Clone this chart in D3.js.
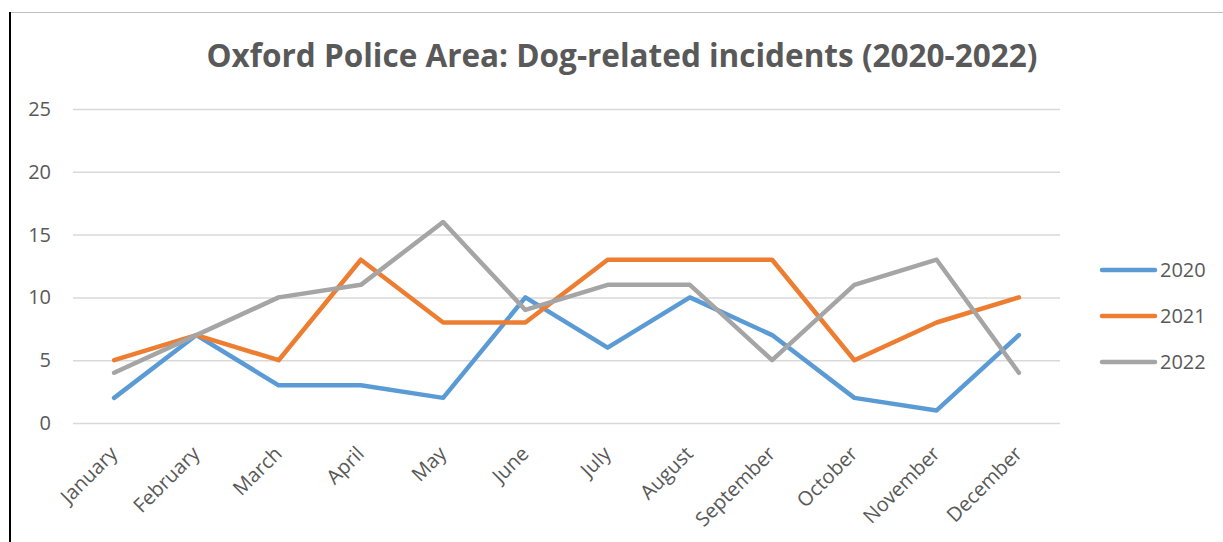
<!DOCTYPE html>
<html><head><meta charset="utf-8">
<script src="https://cdn.jsdelivr.net/npm/d3@7"></script>
<style>body{margin:0;background:#fff}svg{display:block}</style>
</head><body><svg id="c" width="1223" height="542"></svg>
<script>
const months = ["January","February","March","April","May","June","July","August","September","October","November","December"];
const seriesNames = ["2020","2021","2022"];
const values2020 = [2,7,3,3,2,10,6,10,7,2,1,7];
const values2021 = [5,7,5,13,8,8,13,13,13,5,8,10];
const values2022 = [4,7,10,11,16,9,11,11,5,11,13,4];
const yTicks = [0,5,10,15,20,25];
const colors = ["#5B9BD5","#ED7D31","#A5A5A5"];
const title = "Oxford Police Area: Dog-related incidents (2020-2022)";

const svg = d3.select("#c");
const font = "'Open Sans', 'Liberation Sans', sans-serif";
const x = d3.scalePoint().domain(months).range([73,1060]).padding(0.5);
const y = d3.scaleLinear().domain([0,25]).range([423,109]);

// borders
svg.append("line").attr("x1",10).attr("x2",1223).attr("y1",12.5).attr("y2",12.5).attr("stroke","#BFBFBF").attr("stroke-width",1);
svg.append("line").attr("x1",10).attr("x2",10).attr("y1",12).attr("y2",542).attr("stroke","#000").attr("stroke-width",2);

// title
svg.append("text").attr("x",622).attr("y",67).attr("text-anchor","middle")
  .attr("font-family",font).attr("font-weight","bold").attr("font-size",31.5).attr("fill","#595959").text(title);

// grid
const yAxis = d3.axisLeft(y).tickValues(yTicks).tickSize(-(1060-73)).tickPadding(22);
const gy = svg.append("g").attr("transform","translate(73,0)").call(yAxis);
gy.select(".domain").remove();
gy.selectAll(".tick line").attr("stroke","#D9D9D9").attr("stroke-width",1.5);
gy.selectAll(".tick text").attr("font-family",font).attr("font-size",20).attr("fill","#595959");

// x labels
const xAxis = d3.axisBottom(x).tickSize(0).tickPadding(0);
const gx = svg.append("g").attr("transform","translate(0,423)").call(xAxis);
gx.select(".domain").remove();
gx.selectAll(".tick text").attr("font-family",font).attr("font-size",20).attr("fill","#595959")
  .attr("text-anchor","end").attr("dy",null).attr("y",0)
  .attr("transform","translate(4,32) rotate(-45)");

// lines
const allSeries = [values2020, values2021, values2022];
const line = d3.line().x((d,i)=>x(months[i])).y(d=>y(d));
allSeries.forEach((vals,k)=>{
  svg.append("path").datum(vals).attr("d",line).attr("fill","none")
    .attr("stroke",colors[k]).attr("stroke-width",4.5).attr("stroke-linecap","round").attr("stroke-linejoin","round");
});

// legend
const lg = svg.append("g");
seriesNames.forEach((n,k)=>{
  const ly = 270 + k*46;
  lg.append("line").attr("x1",1102).attr("x2",1155).attr("y1",ly).attr("y2",ly)
    .attr("stroke",colors[k]).attr("stroke-width",4.5).attr("stroke-linecap","round");
  lg.append("text").attr("x",1160).attr("y",ly).attr("dy","0.35em").attr("font-family",font)
    .attr("font-size",20).attr("fill","#595959").text(n);
});
</script></body></html>
